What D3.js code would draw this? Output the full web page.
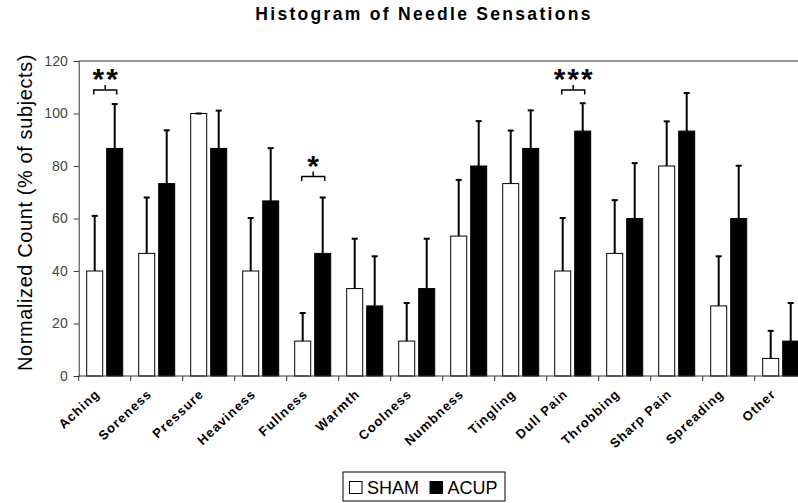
<!DOCTYPE html>
<html>
<head>
<meta charset="utf-8">
<script src="https://cdn.jsdelivr.net/npm/d3@7"></script>
<style>
  body { margin: 0; background: #fff; }
  svg { display: block; font-family: "Liberation Sans", Arial, sans-serif; }
</style>
</head>
<body>
<div id="chart"></div>
<script>
// Categories and series values (% of subjects)
const sensations = ["Aching", "Soreness", "Pressure", "Heaviness", "Fullness", "Warmth", "Coolness",
  "Numbness", "Tingling", "Dull Pain", "Throbbing", "Sharp Pain", "Spreading", "Other"];
const groups = ["SHAM", "ACUP"];
const shamValues = [40, 46.7, 100, 40, 13.3, 33.3, 13.3, 53.3, 73.3, 40, 46.7, 80, 26.7, 6.7];
const acupValues = [86.7, 73.3, 86.7, 66.7, 46.7, 26.7, 33.3, 80, 86.7, 93.3, 60, 93.3, 60, 13.3];
// upper end of error bars
const shamErrTop = [61, 68, 100, 60.2, 24, 52.3, 27.8, 74.7, 93.5, 60.2, 67, 97, 45.6, 17.2];
const acupErrTop = [103.6, 93.6, 101.1, 86.8, 68, 45.6, 52.3, 97.1, 101.2, 103.9, 81.1, 107.8, 80.1, 27.8];
// significance markers
const sigCategories = ["Aching", "Fullness", "Dull Pain"];
const sigLabels = ["**", "*", "***"];
const sigLevels = [109, 76, 109];
const yTicks = [0, 20, 40, 60, 80, 100, 120];

const W = 798, H = 503;
const plotLeft = 78.7, plotTop = 61, plotBottom = 376, step = 52;

const svg = d3.select("#chart").append("svg")
  .attr("width", W).attr("height", H);

const x = d3.scaleBand()
  .domain(sensations)
  .range([plotLeft, plotLeft + step * sensations.length])
  .padding(0);

const xSub = d3.scaleBand()
  .domain(groups)
  .range([0, x.bandwidth()])
  .paddingInner(0.2)
  .paddingOuter(0.4);

const y = d3.scaleLinear().domain([0, 120]).range([plotBottom, plotTop]);

const rows = sensations.map((s, i) => [
  { cat: s, group: "SHAM", value: shamValues[i], err: shamErrTop[i] },
  { cat: s, group: "ACUP", value: acupValues[i], err: acupErrTop[i] }
]).flat();

// title
svg.append("text")
  .attr("x", 424).attr("y", 20)
  .attr("text-anchor", "middle")
  .style("font-size", "17.5px").style("font-weight", "bold")
  .style("letter-spacing", "2.3px")
  .text("Histogram of Needle Sensations");

// top frame line
svg.append("line")
  .attr("x1", plotLeft).attr("x2", W)
  .attr("y1", y(120)).attr("y2", y(120))
  .attr("stroke", "#333").attr("stroke-width", 1);

// y axis
const yAxis = svg.append("g")
  .attr("transform", `translate(${plotLeft},0)`)
  .call(d3.axisLeft(y).tickValues(yTicks).tickSize(5).tickPadding(6));
yAxis.select(".domain").attr("stroke", "#333");
yAxis.selectAll(".tick line").attr("stroke", "#333");
yAxis.selectAll(".tick text")
  .style("font-size", "14px").attr("fill", "#444")
  .attr("font-family", "Liberation Sans, Arial, sans-serif");

// y label
svg.append("text")
  .attr("transform", `translate(32,${(plotTop + plotBottom) / 2 - 6}) rotate(-90)`)
  .attr("text-anchor", "middle")
  .style("font-size", "20px")
  .style("letter-spacing", "0.6px")
  .text("Normalized Count (% of subjects)");

// bars
svg.selectAll(".bar")
  .data(rows)
  .enter()
  .append("rect")
  .attr("class", "bar")
  .attr("x", d => x(d.cat) + xSub(d.group))
  .attr("y", d => y(d.value))
  .attr("width", xSub.bandwidth())
  .attr("height", d => y(0) - y(d.value))
  .attr("fill", d => d.group === "SHAM" ? "#fff" : "#000")
  .attr("stroke", "#000")
  .attr("stroke-width", 1);

// error bars
const err = svg.selectAll(".err")
  .data(rows)
  .enter()
  .append("g")
  .attr("class", "err")
  .attr("transform", d => `translate(${x(d.cat) + xSub(d.group) + xSub.bandwidth() / 2},0)`);
err.append("line")
  .attr("y1", d => y(d.value)).attr("y2", d => y(d.err))
  .attr("stroke", "#000").attr("stroke-width", 2);
err.append("line")
  .attr("x1", -3).attr("x2", 3)
  .attr("y1", d => y(d.err)).attr("y2", d => y(d.err))
  .attr("stroke", "#000").attr("stroke-width", 2);

// x axis
const xAxis = svg.append("g")
  .attr("transform", `translate(0,${plotBottom})`);
xAxis.append("line")
  .attr("x1", plotLeft).attr("x2", W)
  .attr("stroke", "#333");
xAxis.selectAll(".xtick")
  .data(sensations)
  .enter()
  .append("line")
  .attr("x1", d => x(d)).attr("x2", d => x(d))
  .attr("y1", 0).attr("y2", 5)
  .attr("stroke", "#333");
xAxis.selectAll(".xlabel")
  .data(sensations)
  .enter()
  .append("text")
  .attr("text-anchor", "end")
  .attr("transform", d => `translate(${x(d) + x.bandwidth() / 2 - 4},${19}) rotate(-43)`)
  .style("font-size", "13px").style("font-weight", "bold")
  .style("letter-spacing", "1.1px")
  .text(d => d);

// significance brackets
sigCategories.forEach((c, i) => {
  const x1 = x(c) + xSub("SHAM") + xSub.bandwidth() / 2 - 1;
  const x2 = x(c) + xSub("ACUP") + xSub.bandwidth() / 2 + 2;
  const yy = y(sigLevels[i]);
  const g = svg.append("g").attr("fill", "none").attr("stroke", "#000").attr("stroke-width", 1.5);
  g.append("path").attr("d", `M${x1},${yy + 4.5}V${yy}H${x2}V${yy + 4.5}`);
  g.append("line").attr("x1", (x1 + x2) / 2).attr("x2", (x1 + x2) / 2)
    .attr("y1", yy).attr("y2", yy - 5);
  svg.append("text")
    .attr("x", (x1 + x2) / 2 + 1).attr("y", yy - 1)
    .attr("text-anchor", "middle")
    .style("font-size", "30px").style("font-weight", "bold")
    .style("letter-spacing", "2px")
    .text(sigLabels[i]);
});

// legend
const lg = svg.append("g").attr("transform", "translate(343,472)");
lg.append("rect").attr("width", 162).attr("height", 29)
  .attr("fill", "#fff").attr("stroke", "#000");
groups.forEach((g, i) => {
  const ox = 6.5 + i * 80.5;
  lg.append("rect").attr("x", ox).attr("y", 9.5).attr("width", 12.5).attr("height", 12)
    .attr("fill", g === "SHAM" ? "#fff" : "#000").attr("stroke", "#000");
  lg.append("text").attr("x", ox + 17.5).attr("y", 22)
    .style("font-size", "18px").text(g);
});
</script>
</body>
</html>
